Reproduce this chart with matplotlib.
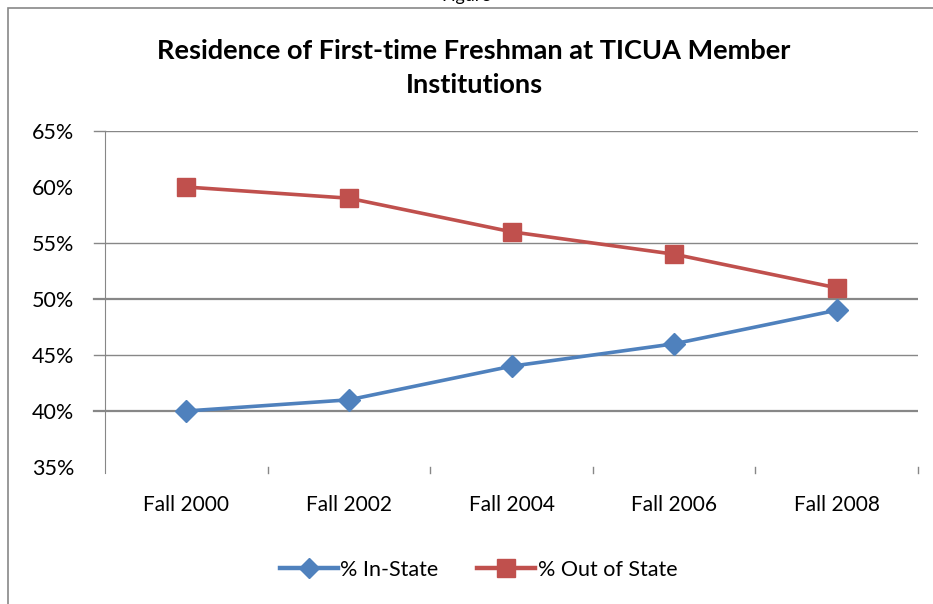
import numpy as np
import matplotlib
matplotlib.use("Agg")
import matplotlib.pyplot as plt
from matplotlib.lines import Line2D
from matplotlib.patches import Rectangle

# chart data
categories = ["Fall 2000", "Fall 2002", "Fall 2004", "Fall 2006", "Fall 2008"]
in_state = [40, 41, 44, 46, 49]
out_of_state = [60, 59, 56, 54, 51]
y_ticks = [35, 40, 45, 50, 55, 60, 65]
grid_levels = [40, 45, 50, 55, 65]

plt.rcParams['font.family'] = ['Lato', 'DejaVu Sans']

blue = '#4F81BD'
red = '#C0504D'
grey = '#878787'

fig = plt.figure(figsize=(9.33, 6.04), dpi=100)
ax = fig.add_axes([0.1125, 0.2268, 0.8715, 0.5563])

x = np.arange(len(categories))
ax.plot(x, in_state, '-', color=blue, lw=2.6, marker='D', ms=11,
        label='% In-State', zorder=3)
ax.plot(x, out_of_state, '-', color=red, lw=2.6, marker='s', ms=13,
        label='% Out of State', zorder=3)

ax.set_xlim(-0.5, len(categories) - 0.5)
ax.set_ylim(35, 65)
ax.set_yticks(y_ticks)
ax.set_yticklabels([f"{v}%" for v in y_ticks], fontsize=15.5)
ax.set_xticks(x)
ax.set_xticklabels(categories, fontsize=15)

for g in grid_levels:
    w = 1.6 if g in (40, 50) else 1.0
    ax.axhline(g, color=grey, lw=w, zorder=1)
    ax.plot([-0.565, -0.5], [g, g], color=grey, lw=w, clip_on=False)

for s in ['top', 'right', 'bottom']:
    ax.spines[s].set_visible(False)
ax.spines['left'].set_color(grey)
ax.spines['left'].set_bounds(34.45, 65)
ax.tick_params(axis='y', length=0, pad=22)
ax.tick_params(axis='x', length=0, pad=20)

# category boundary ticks under the plot
for b in np.arange(0.5, len(categories), 1.0):
    ax.plot([b, b], [34.45, 35], color=grey, lw=1.0, clip_on=False)

fig.text(0.508, 0.887, "Residence of First-time Freshman at TICUA Member\nInstitutions",
         ha='center', va='center', fontsize=19.5, fontweight='bold',
         linespacing=1.5)

fig.text(0.5, 1.006, "Figure", ha='center', va='center', fontsize=13)

# outer chart frame
fig.patches.append(Rectangle((0.0086, -0.05), 1.2, 1.037, transform=fig.transFigure,
                             fill=False, edgecolor=grey, lw=1.2))

handles = [Line2D([], [], color=blue, lw=3.2, marker='D', ms=10),
           Line2D([], [], color=red, lw=3.2, marker='s', ms=13)]
fig.legend(handles, ['% In-State', '% Out of State'], loc='center',
           bbox_to_anchor=(0.513, 0.057), ncol=2, frameon=False, fontsize=15.5,
           handlelength=2.7, handletextpad=0.1, columnspacing=1.8)

fig.savefig("out.png", dpi=100)
